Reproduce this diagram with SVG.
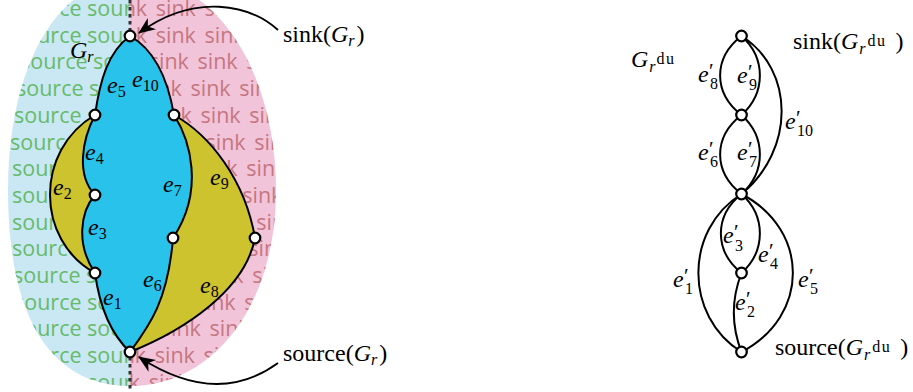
<svg xmlns="http://www.w3.org/2000/svg" width="913" height="392" viewBox="0 0 913 392">
<defs>
<style>
.math{font-family:"Liberation Serif",serif;font-size:24px;fill:#000}
.it{font-style:italic}
.sm{font-size:16px}
.pr{font-size:21px}
.xs{font-size:16px;letter-spacing:1.5px}
.bgsrc{font-family:"Open Sans",sans-serif;font-size:21.5px;fill:#66bb6a}
.bgsnk{font-family:"Open Sans",sans-serif;font-size:21.5px;fill:#c5767f;word-spacing:3px}
.edge{fill:none;stroke:#000;stroke-width:2}
.node{fill:#fff;stroke:#000;stroke-width:2.2}
.arrow{fill:none;stroke:#000;stroke-width:1.8;marker-end:url(#arr)}
.blue{fill:#29c2ea}
.yellow{fill:#cdc32f}
</style>
<clipPath id="egg"><path d="M130,386 C52,386 8,320 8,190 C8,75 52,-22 135,-22 C218,-22 276,75 276,190 C276,310 210,386 130,386 Z"/></clipPath>
<clipPath id="leftHalf"><rect x="0" y="0" width="130" height="392"/></clipPath>
<clipPath id="rightHalf"><rect x="130" y="0" width="200" height="392"/></clipPath>
<marker id="arr" markerUnits="userSpaceOnUse" markerWidth="22" markerHeight="20" viewBox="-19 -10 22 20" refX="0" refY="0" orient="auto" overflow="visible">
<path d="M1,0 L-16,-7 L-11,0 L-16,7 Z" fill="#000"/>
</marker>
</defs>

<g id="background" clip-path="url(#egg)">
<g clip-path="url(#leftHalf)">
<rect x="0" y="0" width="130" height="392" fill="#c9e8f3"/>
<text class="bgsrc" x="14" y="16">source source source</text>
<text class="bgsrc" x="14" y="42.7">source source source</text>
<text class="bgsrc" x="20" y="69.4">source source source</text>
<text class="bgsrc" x="16" y="96.1">source source source</text>
<text class="bgsrc" x="14" y="122.8">source source source</text>
<text class="bgsrc" x="10" y="149.5">source source source</text>
<text class="bgsrc" x="12" y="176.2">source source source</text>
<text class="bgsrc" x="12" y="202.9">source source source</text>
<text class="bgsrc" x="12" y="229.6">source source source</text>
<text class="bgsrc" x="12" y="256.3">source source source</text>
<text class="bgsrc" x="13" y="283">source source source</text>
<text class="bgsrc" x="14" y="309.7">source source source</text>
<text class="bgsrc" x="14" y="336.4">source source source</text>
<text class="bgsrc" x="14" y="363.1">source source source</text>
<text class="bgsrc" x="14" y="389.8">source source source</text>
</g>
<g clip-path="url(#rightHalf)">
<rect x="130" y="0" width="200" height="392" fill="#f2c4da"/>
<text class="bgsnk" x="107" y="16">sink sink sink sink</text>
<text class="bgsnk" x="107" y="42.7">sink sink sink sink</text>
<text class="bgsnk" x="100" y="69.4">sink sink sink sink</text>
<text class="bgsnk" x="93" y="96.1">sink sink sink sink</text>
<text class="bgsnk" x="103" y="122.8">sink sink sink sink</text>
<text class="bgsnk" x="108" y="149.5">sink sink sink sink</text>
<text class="bgsnk" x="100" y="176.2">sink sink sink sink</text>
<text class="bgsnk" x="96" y="202.9">sink sink sink sink</text>
<text class="bgsnk" x="110" y="229.6">sink sink sink sink</text>
<text class="bgsnk" x="102" y="256.3">sink sink sink sink</text>
<text class="bgsnk" x="106" y="283">sink sink sink sink</text>
<text class="bgsnk" x="98" y="309.7">sink sink sink sink</text>
<text class="bgsnk" x="112" y="336.4">sink sink sink sink</text>
<text class="bgsnk" x="106" y="363.1">sink sink sink sink</text>
<text class="bgsnk" x="100" y="389.8">sink sink sink sink</text>
</g>
</g>
<line x1="130" y1="0" x2="130" y2="392" stroke="#333" stroke-width="3" stroke-dasharray="3.5 3.5"/>

<g id="regions">
<path class="blue" d="M130,36 C108,52 100,80 95,115 C82,140 76,175 95,195 C80,212 76,245 95,273 C100,310 112,335 130,352 C150,325 168,300 173,238 C205,190 190,140 174,115 C168,80 155,50 130,36 Z"/>
<path class="yellow" d="M95,115 C35,150 35,240 95,273 C76,245 80,212 95,195 C76,175 82,140 95,115 Z"/>
<path class="yellow" d="M174,115 C210,135 245,180 255,238 C245,290 185,330 130,352 C150,325 168,300 173,238 C205,190 190,140 174,115 Z"/>
</g>

<g id="connectors">
<path id="e5" class="edge" d="M130,36 C108,52 100,80 95,115"/>
<path id="e10" class="edge" d="M130,36 C155,50 168,80 174,115"/>
<path id="e4" class="edge" d="M95,115 C82,140 76,175 95,195"/>
<path id="e2" class="edge" d="M95,115 C35,150 35,240 95,273"/>
<path id="e3" class="edge" d="M95,195 C80,212 76,245 95,273"/>
<path id="e1" class="edge" d="M95,273 C100,310 112,335 130,352"/>
<path id="e7" class="edge" d="M174,115 C190,140 205,190 173,238"/>
<path id="e6" class="edge" d="M173,238 C168,300 150,325 130,352"/>
<path id="e9" class="edge" d="M174,115 C210,135 245,180 255,238"/>
<path id="e8" class="edge" d="M255,238 C245,290 185,330 130,352"/>
<path id="sinkArrow" class="arrow" d="M278,30 C250,5 195,-8 139,33"/>
<path id="sourceArrow" class="arrow" d="M278,363 C245,387 200,397 139,357"/>

<path id="e8p" class="edge" d="M741.5,36 C713,58 713,93 741.5,115"/>
<path id="e9p" class="edge" d="M741.5,36 C766,58 766,93 741.5,115"/>
<path id="e10p" class="edge" d="M741.5,36 C795,70 795,150 741.5,194"/>
<path id="e6p" class="edge" d="M741.5,115 C713,137 713,172 741.5,194"/>
<path id="e7p" class="edge" d="M741.5,115 C766,137 766,172 741.5,194"/>
<path id="e3p" class="edge" d="M741.5,194 C714,216 714,251 741.5,273"/>
<path id="e4p" class="edge" d="M741.5,194 C766,216 766,251 741.5,273"/>
<path id="e1p" class="edge" d="M741.5,194 C684,230 684,316 741.5,352"/>
<path id="e5p" class="edge" d="M741.5,194 C810,230 810,316 741.5,352"/>
<path id="e2p" class="edge" d="M741.5,273 C731,300 731,325 741.5,352"/>
</g>

<g id="nodes-left">
<g id="sinkL"><circle class="node" cx="130" cy="36" r="5.3"/></g>
<g id="vLU"><circle class="node" cx="95" cy="115" r="5.3"/></g>
<g id="vRU"><circle class="node" cx="174" cy="115" r="5.3"/></g>
<g id="vLM"><circle class="node" cx="95" cy="195" r="5.3"/></g>
<g id="vCR"><circle class="node" cx="173" cy="238" r="5.3"/></g>
<g id="vR"><circle class="node" cx="255" cy="238" r="5.3"/></g>
<g id="vLL"><circle class="node" cx="95" cy="273" r="5.3"/></g>
<g id="sourceL"><circle class="node" cx="130" cy="352" r="5.3"/></g>
</g>

<g id="nodes-right">
<g id="sinkR"><circle class="node" cx="741.5" cy="36" r="5.3"/></g>
<g id="w1"><circle class="node" cx="741.5" cy="115" r="5.3"/></g>
<g id="w2"><circle class="node" cx="741.5" cy="194" r="5.3"/></g>
<g id="w3"><circle class="node" cx="741.5" cy="273" r="5.3"/></g>
<g id="sourceR"><circle class="node" cx="741.5" cy="352" r="5.3"/></g>
</g>

<g id="labels-left">
<text class="math" x="70" y="58"><tspan class="it">G</tspan><tspan class="sm it" dy="4">r</tspan></text>
<text class="math" x="107" y="93"><tspan class="it">e</tspan><tspan class="sm" dy="4">5</tspan></text>
<text class="math" x="132" y="87"><tspan class="it">e</tspan><tspan class="sm" dy="4">10</tspan></text>
<text class="math" x="85" y="160"><tspan class="it">e</tspan><tspan class="sm" dy="4">4</tspan></text>
<text class="math" x="53" y="195"><tspan class="it">e</tspan><tspan class="sm" dy="4">2</tspan></text>
<text class="math" x="88" y="235"><tspan class="it">e</tspan><tspan class="sm" dy="4">3</tspan></text>
<text class="math" x="103" y="305"><tspan class="it">e</tspan><tspan class="sm" dy="4">1</tspan></text>
<text class="math" x="143" y="287"><tspan class="it">e</tspan><tspan class="sm" dy="4">6</tspan></text>
<text class="math" x="163" y="192"><tspan class="it">e</tspan><tspan class="sm" dy="4">7</tspan></text>
<text class="math" x="200" y="293"><tspan class="it">e</tspan><tspan class="sm" dy="4">8</tspan></text>
<text class="math" x="210" y="185"><tspan class="it">e</tspan><tspan class="sm" dy="4">9</tspan></text>
<text class="math" x="283" y="42">sink(<tspan class="it">G</tspan><tspan class="sm it" dy="4">r</tspan><tspan dx="2" dy="-4">)</tspan></text>
<text class="math" x="283" y="361">source(<tspan class="it">G</tspan><tspan class="sm it" dy="4">r</tspan><tspan dx="2" dy="-4">)</tspan></text>
</g>

<g id="labels-right">
<text class="math" x="631" y="67"><tspan class="it">G</tspan><tspan class="sm it" dx="1" dy="5">r</tspan><tspan class="xs" dx="1" dy="-8">du</tspan></text>
<text class="math" x="793" y="49">sink(<tspan class="it">G</tspan><tspan class="sm it" dx="1" dy="5">r</tspan><tspan class="xs" dx="2" dy="-8">du</tspan><tspan dx="9" dy="3">)</tspan></text>
<text class="math" x="775" y="355">source(<tspan class="it">G</tspan><tspan class="sm it" dx="1" dy="5">r</tspan><tspan class="xs" dx="2" dy="-8">du</tspan><tspan dx="9" dy="3">)</tspan></text>
<text class="math" x="698" y="82"><tspan class="it">e</tspan><tspan class="pr" x="709" y="78">′</tspan><tspan class="sm" x="710" y="89">8</tspan></text>
<text class="math" x="737" y="83"><tspan class="it">e</tspan><tspan class="pr" x="748" y="79">′</tspan><tspan class="sm" x="749" y="90">9</tspan></text>
<text class="math" x="785" y="129"><tspan class="it">e</tspan><tspan class="pr" x="796" y="125">′</tspan><tspan class="sm" x="797" y="136">10</tspan></text>
<text class="math" x="698" y="160"><tspan class="it">e</tspan><tspan class="pr" x="709" y="156">′</tspan><tspan class="sm" x="710" y="167">6</tspan></text>
<text class="math" x="737" y="160"><tspan class="it">e</tspan><tspan class="pr" x="748" y="156">′</tspan><tspan class="sm" x="749" y="167">7</tspan></text>
<text class="math" x="723" y="243"><tspan class="it">e</tspan><tspan class="pr" x="734" y="239">′</tspan><tspan class="sm" x="735" y="251">3</tspan></text>
<text class="math" x="758" y="262"><tspan class="it">e</tspan><tspan class="pr" x="769" y="258">′</tspan><tspan class="sm" x="770" y="269">4</tspan></text>
<text class="math" x="673" y="287"><tspan class="it">e</tspan><tspan class="pr" x="684" y="283">′</tspan><tspan class="sm" x="685" y="294">1</tspan></text>
<text class="math" x="798" y="287"><tspan class="it">e</tspan><tspan class="pr" x="809" y="283">′</tspan><tspan class="sm" x="810" y="294">5</tspan></text>
<text class="math" x="735" y="310"><tspan class="it">e</tspan><tspan class="pr" x="746" y="306">′</tspan><tspan class="sm" x="747" y="317">2</tspan></text>
</g>
</svg>
